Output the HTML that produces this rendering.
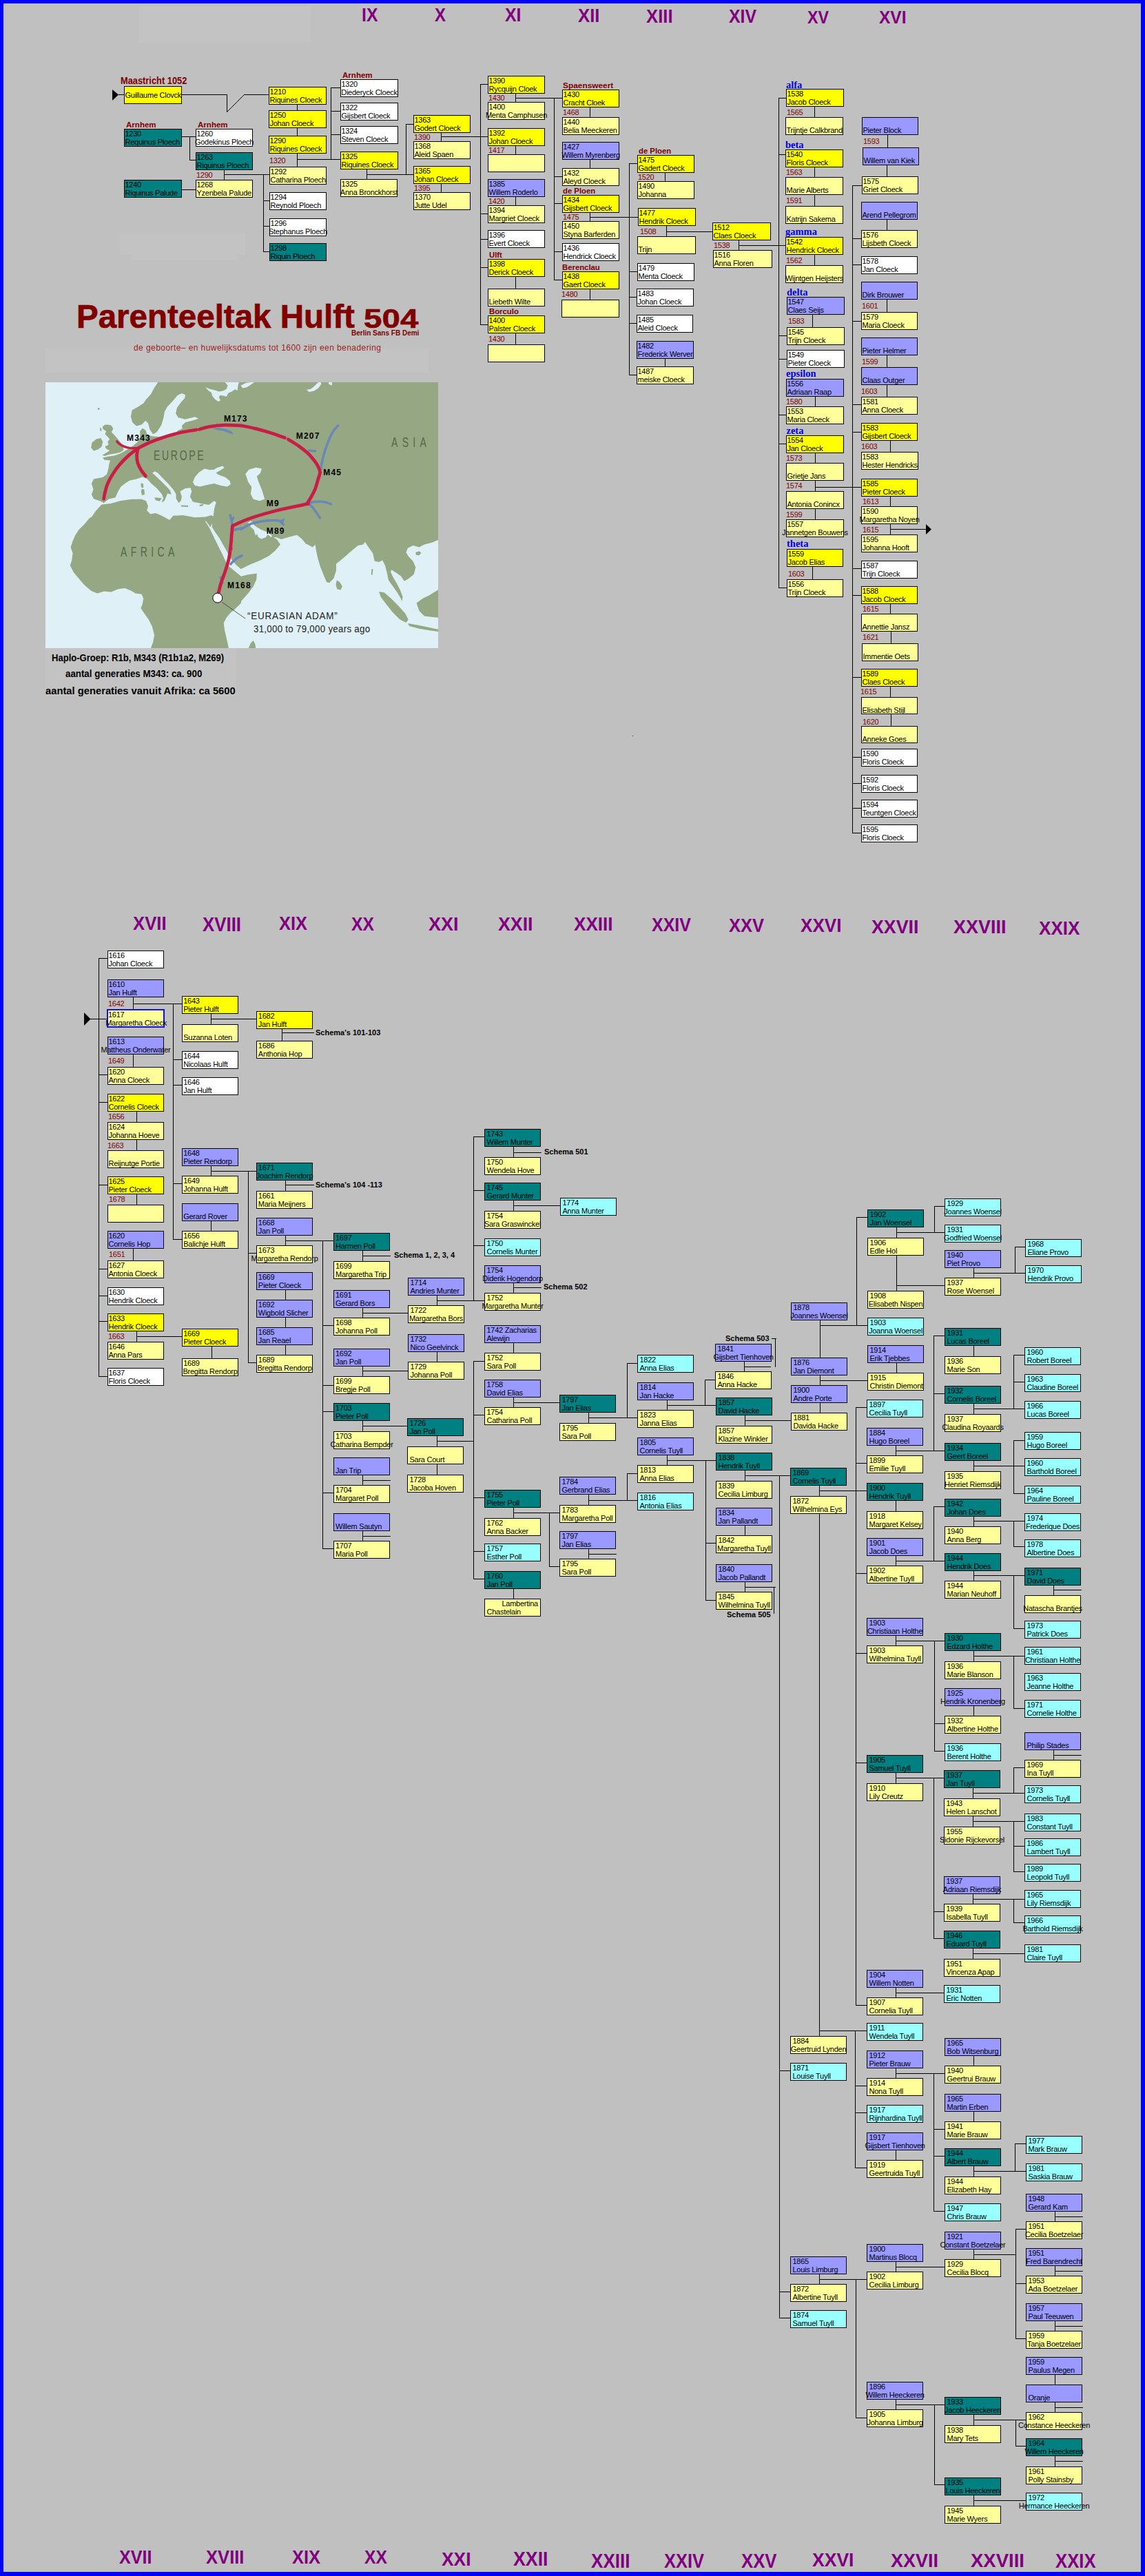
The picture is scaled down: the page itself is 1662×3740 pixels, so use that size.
<!DOCTYPE html>
<html><head><meta charset="utf-8"><title>Parenteeltak Hulft 504</title>
<style>
html,body{margin:0;padding:0}
body{width:1662px;height:3740px;position:relative;background:#c0c0c0;overflow:hidden;font-family:"Liberation Sans",sans-serif;}
#frame{position:absolute;left:0;top:0;width:1662px;height:3740px;box-sizing:border-box;border-style:solid;border-color:#0000ff;border-width:5px 6px 6px 5px;z-index:9}
.b{position:absolute;box-sizing:border-box;border:1px solid #000;height:26px;width:83px;font:11px/12px "Liberation Sans",sans-serif;letter-spacing:-0.25px;color:#000;white-space:nowrap;padding-left:.5px}
.q{padding-left:2.5px}.q1{padding-left:1.2px}.q2{padding-left:1.8px}.q3{padding-left:2px}
.b div{height:12px}
.y{background:#ffff00}.l{background:#ffff99}.t{background:#008080}.w{background:#fff}.p{background:#9999ff}.c{background:#99ffff}
.r{position:absolute;font:11px/12px "Liberation Sans",sans-serif;letter-spacing:-0.25px;color:#800000;white-space:nowrap}
.h{position:absolute;font:bold 11px/12px "Liberation Sans",sans-serif;color:#800000;white-space:nowrap;transform:scaleX(1.03);transform-origin:0 50%}
.bl{position:absolute;font:bold 14.5px/16px "Liberation Serif",serif;color:#0000f0;white-space:nowrap}
.k{position:absolute;font:bold 11px/12px "Liberation Sans",sans-serif;color:#000;white-space:nowrap}
.rm{position:absolute;font:bold 28px/28px "Liberation Sans",sans-serif;color:#800080;white-space:nowrap;transform-origin:0 0}
.lt{position:absolute;background:#c3c3c3}
svg{position:absolute;left:0;top:0}
</style></head><body>
<div class="lt" style="left:202px;top:9px;width:249px;height:53px"></div>
<div class="lt" style="left:175px;top:338px;width:181px;height:32px"></div>
<div class="lt" style="left:190px;top:370px;width:156px;height:8px"></div>
<div class="lt" style="left:66px;top:506px;width:556px;height:35px"></div>
<svg width="1662" height="3740" viewBox="0 0 1662 3740"><path d="M172 137.5H181M264 137.5H330M354 137.5H391M431 231.5H495M480 127.5H495M480 161.5H495M480 195.5H495M264 198.5H285M275 232.5H285M264 275.5H285M325 253.5H391M382 291.5H392M382 328.5H392M382 365.5H392M532 253.5H601M589 180.5H601M640 198.5H709M697 122.5H709M697 310.5H709M697 347.5H709M697 388.5H709M697 471.5H709M748 142.5H817M804 256.5H817M804 295.5H817M804 365.5H817M804 406.5H817M856 315.5H927M913 237.5H926M913 394.5H926M913 431.5H925M913 469.5H925M913 544.5H925M967 336.5H1035M1072 356.5H1142M1130 142.5H1142M1130 224.5H1142M1130 487.5H1143M1130 521.5H1143M1130 602.5H1142M1130 644.5H1142M1130 853.5H1143M1183 707.5H1251M1237 269.5H1252M1237 346.5H1251M1237 384.5H1251M1237 466.5H1251M1237 587.5H1251M1237 627.5H1251M1237 825.5H1251M1237 864.5H1251M1237 983.5H1251M1237 1099.5H1251M1237 1137.5H1251M1237 1173.5H1251M1237 1209.5H1251M1292 768.5H1345M143 1391.5H157M143 1560.5H157M143 1600.5H157M143 1720.5H157M143 1842.5H157M143 1881.5H157M143 1918.5H157M143 1998.5H157M131 1479.5H156M193 1457.5H266M251 1538.5H266M251 1575.5H266M251 1718.5H266M251 1799.5H266M306 1479.5H374M306 1700.5H374M360 1819.5H374M360 1978.5H374M198 1940.5H266M409 1499.5H456M414 1720.5H456M414 1801.5H485M468 1924.5H485M468 2011.5H485M468 2049.5H485M468 2167.5H485M468 2248.5H485M526 1823.5H567M526 1906.5H593M526 1990.5H593M526 2070.5H592M526 2149.5H567M526 2230.5H567M634 1888.5H704M687 1650.5H704M687 1728.5H704M687 1808.5H704M634 2092.5H688M687 1976.5H704M687 2054.5H704M687 2174.5H704M687 2252.5H704M687 2292.5H704M745 1673.5H786M745 1869.5H786M745 1750.5H814M745 2036.5H813M745 2196.5H813M797 2274.5H813M854 2058.5H926M910 1979.5H926M854 2178.5H926M910 2139.5H926M854 2256.5H895M968 2040.5H1040M1023 2003.5H1040M968 2120.5H1040M1024 2240.5H1040M1024 2323.5H1040M1120 1943.5H1127M1080 1984.5H1119M1081 2304.5H1126M1081 2062.5H1149M1081 2142.5H1148M1131 3006.5H1148M1131 3327.5H1148M1131 3365.5H1148M1190 1924.5H1260M1243 1767.5H1260M1190 2004.5H1260M1189 2164.5H1259M1242 2043.5H1259M1242 2124.5H1259M1242 2284.5H1259M1242 2400.5H1259M1242 2559.5H1259M1242 2911.5H1259M1189 2948.5H1259M1241 3028.5H1259M1241 3067.5H1259M1241 3147.5H1259M1189 3309.5H1259M1242 3510.5H1259M1301 1789.5H1372M1356 1751.5H1372M1301 1866.5H1372M1300 2106.5H1372M1355 1939.5H1372M1355 2023.5H1372M1300 2266.5H1372M1355 2187.5H1372M1300 2382.5H1372M1356 2502.5H1372M1356 2542.5H1372M1300 2581.5H1371M1355 2775.5H1371M1355 2814.5H1371M1300 2893.5H1371M1300 3010.5H1372M1355 3091.5H1372M1355 3130.5H1372M1355 3210.5H1372M1300 3291.5H1372M1300 3491.5H1372M1356 3607.5H1372M1413 1848.5H1489M1473 1810.5H1489M1413 2045.5H1488M1471 1967.5H1488M1471 2006.5H1488M1413 2128.5H1488M1471 2091.5H1488M1471 2168.5H1488M1413 2208.5H1488M1471 2245.5H1488M1413 2287.5H1488M1471 2364.5H1488M1413 2404.5H1488M1471 2480.5H1488M1412 2603.5H1488M1471 2566.5H1488M1412 2644.5H1488M1471 2680.5H1488M1471 2717.5H1488M1412 2757.5H1488M1471 2791.5H1488M1412 2836.5H1488M1413 3152.5H1490M1473 3112.5H1490M1413 3273.5H1475M1474 3236.5H1490M1474 3315.5H1490M1474 3395.5H1490M1413 3513.5H1490M1474 3551.5H1490M1413 3630.5H1490M1529 2308.5H1570M1529 2548.5H1570M1531 3218.5H1572M1531 3297.5H1572M1531 3377.5H1572M1531 3495.5H1572M1531 3573.5H1572M329.5 137V163M431.5 152V161M431.5 185V199M431.5 223V244M480.5 127V232M275.5 198V233M325.5 247V262M382.5 253V366M532.5 246V261M589.5 180V254M640.5 192V206M640.5 267V280M697.5 122V472M748.5 135V149M748.5 211V225M748.5 285V299M748.5 401V420M748.5 483V501M804.5 142V407M856.5 155V171M856.5 231V245M856.5 308V322M856.5 419V436M913.5 237V545M965.5 250V264M965.5 520V533M967.5 327V344M1072.5 348V364M1130.5 142V854M1182.5 154V171M1182.5 242V258M1182.5 282V300M1182.5 369V386M1179.5 456V476M1183.5 575V591M1183.5 657V673M1183.5 697V714M1183.5 738V755M1179.5 822V842M1237.5 269V1210M1288.5 195V215M1287.5 239V257M1287.5 318V335M1287.5 434V454M1287.5 515V534M1287.5 558V577M1292.5 639V657M1292.5 720V736M1292.5 760V777M1292.5 876V892M1292.5 996V1013M1293.5 916V935M1293.5 1036V1055M143.5 1391V1999M193.5 1447V1467M193.5 1530V1550M193.5 1812V1831M198.5 1613V1630M198.5 1654V1671M198.5 1733V1750M198.5 1932V1949M251.5 1457V1800M306.5 1471V1488M306.5 1692V1708M306.5 1772V1788M307.5 1954V1973M360.5 1700V1979M409.5 1493V1512M414.5 1713V1730M414.5 1793V1809M414.5 1872V1888M414.5 1912V1928M414.5 1952V1968M468.5 1801V2249M526.5 1815V1832M526.5 1898V1914M526.5 1983V1999M526.5 2062V2079M526.5 2141V2157M526.5 2222V2238M634.5 1880V1896M634.5 1962V1978M634.5 2084V2101M634.5 2125V2142M687.5 1650V1889M687.5 1976V2293M745.5 1664V1681M745.5 1742V1759M745.5 1862V1878M745.5 1949V1965M745.5 2028V2044M745.5 2188V2205M745.5 2306V2322M797.5 2196V2275M854.5 2050V2067M854.5 2169V2186M854.5 2248V2264M910.5 1979V2059M910.5 2139V2179M968.5 2032V2048M968.5 2112V2128M1023.5 2003V2041M1024.5 2120V2324M1080.5 1976V1992M1081.5 2054V2071M1081.5 2134V2151M1081.5 2214V2230M1081.5 2296V2312M1125.5 1943V1985M1123.5 2304V2343M1131.5 2142V3366M1190.5 1916V1972M1243.5 1767V1925M1190.5 1996V2012M1190.5 2036V2052M1189.5 2156V2173M1242.5 2043V2912M1189.5 2197V2957M1241.5 2948V3148M1189.5 3301V3317M1242.5 3309V3511M1301.5 1781V1798M1301.5 1822V1875M1301.5 1978V1994M1300.5 2098V2114M1300.5 2178V2195M1300.5 2258V2274M1300.5 2374V2390M1300.5 2573V2590M1300.5 2885V2901M1300.5 3002V3018M1300.5 3121V3137M1300.5 3283V3299M1300.5 3483V3499M1356.5 1751V1790M1355.5 1939V2107M1355.5 2187V2267M1356.5 2382V2543M1355.5 2581V2815M1355.5 3010V3211M1356.5 3491V3608M1413.5 1840V1856M1413.5 1953V1970M1413.5 2037V2054M1413.5 2120V2137M1413.5 2201V2217M1413.5 2280V2296M1413.5 2396V2413M1413.5 2476V2492M1413.5 2984V3000M1413.5 3065V3081M1413.5 3144V3161M1413.5 3265V3281M1413.5 3505V3522M1413.5 3622V3639M1412.5 2595V2612M1412.5 2636V2653M1412.5 2749V2765M1412.5 2828V2845M1473.5 1810V1849M1471.5 1967V2046M1471.5 2091V2169M1471.5 2208V2246M1471.5 2287V2365M1471.5 2404V2481M1471.5 2566V2604M1471.5 2644V2718M1471.5 2757V2792M1473.5 3112V3153M1474.5 3236V3396M1474.5 3513V3552M1529.5 2301V2317M1529.5 2540V2556M1531.5 3210V3226M1531.5 3289V3305M1531.5 3369V3385M1531.5 3447V3463M1531.5 3487V3503M1531.5 3565V3582" stroke="#000" stroke-width="1" fill="none" shape-rendering="crispEdges"/><path d="M329.5 162.5L354.5 137.5" stroke="#000" stroke-width="1" fill="none"/><path d="M163 130L172 137.5L163 146Z" fill="#000"/><path d="M1344 761L1352 768.5L1344 776Z" fill="#000"/><path d="M122 1470L131.5 1479.5L122 1489Z" fill="#000"/></svg>
<div class="b y" style="left:180px;top:125px;width:84px"><div style="margin-top:6px">Guillaume Clovck</div></div>
<div class="b t" style="left:180px;top:187px;width:84px"><div>1230</div><div>Requinus Ploech</div></div>
<div class="b t" style="left:180px;top:261px;width:84px"><div>1240</div><div>Riquinus Palude</div></div>
<div class="b w" style="left:284px;top:187px"><div>1260</div><div style="margin-left:-2.6px">Godekinus Ploech</div></div>
<div class="b t" style="left:284px;top:221px"><div>1263</div><div>Riquinus Ploech</div></div>
<div class="b l" style="left:284px;top:261px"><div>1268</div><div>Yzenbela Palude</div></div>
<div class="b y" style="left:390px;top:126px;width:84px"><div>1210</div><div>Riquines Cloeck</div></div>
<div class="b y" style="left:390px;top:160px;width:84px"><div>1250</div><div>Johan Cloeck</div></div>
<div class="b y" style="left:390px;top:197px;width:84px"><div>1290</div><div>Riquines Cloeck</div></div>
<div class="b l" style="left:391px;top:242px"><div>1292</div><div>Catharina Ploech</div></div>
<div class="b w" style="left:391px;top:279px"><div>1294</div><div>Reynold Ploech</div></div>
<div class="b w" style="left:391px;top:317px"><div>1296</div><div style="margin-left:-2.6px">Stephanus Ploech</div></div>
<div class="b t" style="left:391px;top:353px"><div>1298</div><div>Riquin Ploech</div></div>
<div class="b w" style="left:494px;top:115px;width:84px"><div>1320</div><div style="margin-left:-0.3px">Diederyck Cloeck</div></div>
<div class="b w" style="left:494px;top:149px;width:84px"><div>1322</div><div>Gijsbert Cloeck</div></div>
<div class="b w" style="left:494px;top:183px;width:84px"><div>1324</div><div>Steven Cloeck</div></div>
<div class="b y" style="left:494px;top:220px;width:84px"><div>1325</div><div>Riquines Cloeck</div></div>
<div class="b l" style="left:494px;top:260px"><div>1325</div><div style="margin-left:-1.7px">Anna Bronckhorst</div></div>
<div class="b y" style="left:600px;top:167px"><div>1363</div><div>Godert Cloeck</div></div>
<div class="b l" style="left:600px;top:205px"><div>1368</div><div>Aleid Spaen</div></div>
<div class="b y" style="left:600px;top:241px"><div>1365</div><div>Johan Cloeck</div></div>
<div class="b l" style="left:600px;top:279px"><div>1370</div><div>Jutte Udel</div></div>
<div class="b y" style="left:708px;top:110px"><div>1390</div><div>Rycquijn Cloek</div></div>
<div class="b l" style="left:708px;top:148px"><div>1400</div><div style="margin-left:-4.6px">Menta Camphusen</div></div>
<div class="b y" style="left:708px;top:186px"><div>1392</div><div>Johan Cloeck</div></div>
<div class="b l" style="left:708px;top:224px"><div></div><div></div></div>
<div class="b p" style="left:708px;top:260px"><div>1385</div><div>Willem Roderlo</div></div>
<div class="b l" style="left:708px;top:298px"><div>1394</div><div>Margriet Cloeck</div></div>
<div class="b w" style="left:708px;top:334px"><div>1396</div><div>Evert Cloeck</div></div>
<div class="b y" style="left:708px;top:376px"><div>1398</div><div>Derick Cloeck</div></div>
<div class="b l" style="left:708px;top:419px"><div></div><div>Liebeth Wilte</div></div>
<div class="b y" style="left:708px;top:458px"><div>1400</div><div>Palster Cloeck</div></div>
<div class="b l" style="left:708px;top:500px"><div></div><div></div></div>
<div class="b y" style="left:816px;top:130px"><div>1430</div><div>Cracht Cloek</div></div>
<div class="b l" style="left:816px;top:170px"><div>1440</div><div>Belia Meeckeren</div></div>
<div class="b p" style="left:816px;top:206px"><div>1427</div><div style="margin-left:-2.3px">Willem Myrenberg</div></div>
<div class="b l" style="left:816px;top:244px"><div>1432</div><div>Aleyd Cloeck</div></div>
<div class="b y" style="left:816px;top:283px"><div>1434</div><div>Gijsbert Cloeck</div></div>
<div class="b l" style="left:816px;top:321px"><div>1450</div><div>Styna Barferden</div></div>
<div class="b w" style="left:816px;top:353px"><div>1436</div><div>Hendrick Cloeck</div></div>
<div class="b y" style="left:816px;top:394px"><div>1438</div><div>Gaert Cloeck</div></div>
<div class="b l" style="left:815px;top:435px;width:84px"><div></div><div></div></div>
<div class="b y" style="left:925px;top:225px"><div>1475</div><div>Gadert Cloeck</div></div>
<div class="b l" style="left:925px;top:263px"><div>1490</div><div>Johanna</div></div>
<div class="b y" style="left:926px;top:302px;width:84px"><div>1477</div><div>Hendrik Cloeck</div></div>
<div class="b l" style="left:925px;top:343px;width:85px"><div></div><div>Trijn</div></div>
<div class="b w" style="left:925px;top:382px"><div>1479</div><div>Menta Cloeck</div></div>
<div class="b w" style="left:924px;top:419px"><div>1483</div><div>Johan Cloeck</div></div>
<div class="b w" style="left:924px;top:457px;width:82px"><div>1485</div><div>Aleid Cloeck</div></div>
<div class="b p" style="left:924px;top:495px"><div>1482</div><div>Frederick Werver</div></div>
<div class="b l" style="left:924px;top:532px"><div>1487</div><div>meiske Cloeck</div></div>
<div class="b y" style="left:1034px;top:323px;width:85px"><div>1512</div><div>Claes Cloeck</div></div>
<div class="b l" style="left:1035px;top:363px;width:86px"><div>1516</div><div>Anna Floren</div></div>
<div class="b y" style="left:1141px;top:129px;width:84px"><div>1538</div><div>Jacob Cloeck</div></div>
<div class="b l" style="left:1140px;top:170px;width:84px"><div></div><div>Trijntje Calkbrand</div></div>
<div class="b y" style="left:1140px;top:217px;width:84px"><div>1540</div><div>Floris Cloeck</div></div>
<div class="b l" style="left:1140px;top:257px;width:84px"><div></div><div>Marie Alberts</div></div>
<div class="b l" style="left:1140px;top:299px;width:84px"><div></div><div>Katrijn Sakema</div></div>
<div class="b y" style="left:1140px;top:344px;width:84px"><div>1542</div><div>Hendrick Cloeck</div></div>
<div class="b l" style="left:1140px;top:385px;width:84px"><div></div><div style="margin-left:-1.6px">Wijntgen Heijsters</div></div>
<div class="b p" style="left:1142px;top:431px;width:84px"><div>1547</div><div>Claes Seijs</div></div>
<div class="b l" style="left:1142px;top:475px;width:84px"><div>1545</div><div>Trijn Cloeck</div></div>
<div class="b w" style="left:1142px;top:508px;width:84px"><div>1549</div><div>Pieter Cloeck</div></div>
<div class="b p" style="left:1141px;top:550px;width:84px"><div>1556</div><div>Adriaan Raap</div></div>
<div class="b l" style="left:1141px;top:590px;width:84px"><div>1553</div><div>Maria Cloeck</div></div>
<div class="b y" style="left:1141px;top:632px;width:84px"><div>1554</div><div>Jan Cloeck</div></div>
<div class="b l" style="left:1141px;top:672px;width:84px"><div></div><div>Grietje Jans</div></div>
<div class="b l" style="left:1141px;top:713px;width:84px"><div></div><div>Antonia Conincx</div></div>
<div class="b l" style="left:1141px;top:754px;width:84px"><div>1557</div><div style="margin-left:-7.2px">Jannetgen Bouwens</div></div>
<div class="b y" style="left:1142px;top:797px;width:82px"><div>1559</div><div>Jacob Elias</div></div>
<div class="b l" style="left:1142px;top:841px;width:82px"><div>1556</div><div>Trijn Cloeck</div></div>
<div class="b p" style="left:1251px;top:170px;width:82px"><div></div><div>Pieter Block</div></div>
<div class="b p" style="left:1252px;top:214px;width:82px"><div></div><div>Willem van Kiek</div></div>
<div class="b l" style="left:1251px;top:256px;width:82px"><div>1575</div><div>Griet Cloeck</div></div>
<div class="b p" style="left:1250px;top:293px;width:82px"><div></div><div>Arend Pellegrom</div></div>
<div class="b l" style="left:1250px;top:334px;width:82px"><div>1576</div><div>Lijsbeth Cloeck</div></div>
<div class="b w" style="left:1250px;top:372px;width:82px"><div>1578</div><div>Jan Cloeck</div></div>
<div class="b p" style="left:1250px;top:409px;width:82px"><div></div><div>Dirk Brouwer</div></div>
<div class="b l" style="left:1250px;top:453px;width:82px"><div>1579</div><div>Maria Cloeck</div></div>
<div class="b p" style="left:1250px;top:490px;width:82px"><div></div><div>Pieter Helmer</div></div>
<div class="b p" style="left:1250px;top:533px;width:82px"><div></div><div>Claas Outger</div></div>
<div class="b l" style="left:1250px;top:576px;width:82px"><div>1581</div><div>Anna Cloeck</div></div>
<div class="b y" style="left:1250px;top:614px;width:82px"><div>1583</div><div>Gijsbert Cloeck</div></div>
<div class="b l" style="left:1250px;top:656px"><div>1583</div><div>Hester Hendricks</div></div>
<div class="b y" style="left:1250px;top:695px;width:82px"><div>1585</div><div>Pieter Cloeck</div></div>
<div class="b l" style="left:1250px;top:735px;width:82px"><div>1590</div><div style="margin-left:-4.0px">Margaretha Noyen</div></div>
<div class="b l" style="left:1250px;top:776px;width:82px"><div>1595</div><div>Johanna Hooft</div></div>
<div class="b w" style="left:1250px;top:814px;width:82px"><div>1587</div><div>Trijn Cloeck</div></div>
<div class="b y" style="left:1250px;top:851px;width:82px"><div>1588</div><div>Jacob Cloeck</div></div>
<div class="b l" style="left:1250px;top:891px;width:82px"><div></div><div>Annettie Jansz</div></div>
<div class="b l" style="left:1251px;top:934px;width:82px"><div></div><div>Immentie Oets</div></div>
<div class="b y" style="left:1250px;top:971px;width:82px"><div>1589</div><div>Claes Cloeck</div></div>
<div class="b l" style="left:1250px;top:1012px;width:82px;height:25px"><div></div><div>Elisabeth Stijl</div></div>
<div class="b l" style="left:1250px;top:1054px;width:82px;height:25px"><div></div><div>Anneke Goes</div></div>
<div class="b w" style="left:1250px;top:1087px;width:82px"><div>1590</div><div>Floris Cloeck</div></div>
<div class="b w" style="left:1250px;top:1125px;width:82px"><div>1592</div><div>Floris Cloeck</div></div>
<div class="b w" style="left:1250px;top:1161px;width:82px"><div>1594</div><div>Teuntgen Cloeck</div></div>
<div class="b w" style="left:1250px;top:1197px;width:82px"><div>1595</div><div>Floris Cloeck</div></div>
<div class="b w" style="left:156px;top:1380px;width:82px"><div>1616</div><div>Johan Cloeck</div></div>
<div class="b p" style="left:156px;top:1422px;width:82px"><div>1610</div><div>Jan Hulft</div></div>
<div class="b l" style="left:155px;top:1465px;width:84px;height:27px;border:2px solid #1010e8;padding-left:0"><div>1617</div><div style="margin-left:-3.8px">Margaretha Cloeck</div></div>
<div class="b p" style="left:156px;top:1505px;width:82px"><div>1613</div><div style="margin-left:-11.0px">Mattheus Onderwater</div></div>
<div class="b l" style="left:156px;top:1549px;width:82px"><div>1620</div><div>Anna Cloeck</div></div>
<div class="b y" style="left:156px;top:1588px;width:82px"><div>1622</div><div>Cornelis Cloeck</div></div>
<div class="b l" style="left:156px;top:1629px;width:82px"><div>1624</div><div>Johanna Hoeve</div></div>
<div class="b l" style="left:156px;top:1670px;width:82px"><div></div><div>Reijnutge Portie</div></div>
<div class="b y" style="left:156px;top:1708px;width:82px"><div>1625</div><div>Pieter Cloeck</div></div>
<div class="b l" style="left:156px;top:1749px;width:82px"><div></div><div></div></div>
<div class="b p" style="left:156px;top:1787px;width:82px"><div>1620</div><div>Cornelis Hop</div></div>
<div class="b l" style="left:156px;top:1830px;width:82px"><div>1627</div><div>Antonia Cloeck</div></div>
<div class="b w" style="left:156px;top:1869px;width:82px"><div>1630</div><div>Hendrik Cloeck</div></div>
<div class="b y" style="left:156px;top:1907px;width:82px"><div>1633</div><div>Hendrik Cloeck</div></div>
<div class="b l" style="left:156px;top:1948px;width:82px"><div>1646</div><div>Anna Pars</div></div>
<div class="b w" style="left:156px;top:1986px;width:82px"><div>1637</div><div>Floris Cloeck</div></div>
<div class="b y q1" style="left:264px;top:1446px;width:82px"><div>1643</div><div>Pieter Hulft</div></div>
<div class="b l q1" style="left:264px;top:1487px;width:82px"><div></div><div>Suzanna Loten</div></div>
<div class="b w q1" style="left:264px;top:1526px;width:82px"><div>1644</div><div>Nicolaas Hulft</div></div>
<div class="b w q1" style="left:264px;top:1564px;width:82px"><div>1646</div><div>Jan Hulft</div></div>
<div class="b p q1" style="left:264px;top:1667px;width:82px"><div>1648</div><div>Pieter Rendorp</div></div>
<div class="b l q1" style="left:264px;top:1707px;width:82px"><div>1649</div><div>Johanna Hulft</div></div>
<div class="b p q1" style="left:264px;top:1747px;width:82px"><div></div><div>Gerard Rover</div></div>
<div class="b l q1" style="left:264px;top:1787px;width:82px"><div>1656</div><div>Balichje Hulft</div></div>
<div class="b y q1" style="left:264px;top:1929px;width:82px"><div>1669</div><div>Pieter Cloeck</div></div>
<div class="b l q1" style="left:264px;top:1972px;width:82px"><div>1689</div><div style="margin-left:-0.8px">Bregitta Rendorp</div></div>
<div class="b y q2" style="left:372px;top:1468px;width:82px"><div>1682</div><div>Jan Hulft</div></div>
<div class="b l q2" style="left:372px;top:1511px;width:82px"><div>1686</div><div>Anthonia Hop</div></div>
<div class="b t q2" style="left:372px;top:1688px;width:82px"><div>1671</div><div style="margin-left:-3.0px">Joachim Rendorp</div></div>
<div class="b l q2" style="left:372px;top:1729px;width:82px"><div>1661</div><div>Maria Meijners</div></div>
<div class="b p q2" style="left:372px;top:1768px;width:82px"><div>1668</div><div>Jan Poll</div></div>
<div class="b l q2" style="left:372px;top:1808px;width:82px"><div>1673</div><div style="margin-left:-10.3px">Margaretha Rendorp</div></div>
<div class="b p q2" style="left:372px;top:1847px;width:82px"><div>1669</div><div>Pieter Cloeck</div></div>
<div class="b p q2" style="left:372px;top:1887px;width:82px"><div>1692</div><div>Wigbold Slicher</div></div>
<div class="b p q2" style="left:372px;top:1927px;width:82px"><div>1685</div><div>Jan Reael</div></div>
<div class="b l q2" style="left:372px;top:1967px;width:82px"><div>1689</div><div style="margin-left:-1.4px">Bregitta Rendorp</div></div>
<div class="b t q3" style="left:484px;top:1790px;width:82px"><div>1697</div><div>Harmen Poll</div></div>
<div class="b l q3" style="left:484px;top:1831px;width:82px"><div>1699</div><div>Margaretha Trip</div></div>
<div class="b p q3" style="left:484px;top:1873px;width:82px"><div>1691</div><div>Gerard Bors</div></div>
<div class="b l q3" style="left:484px;top:1913px;width:82px"><div>1698</div><div>Johanna Poll</div></div>
<div class="b p q3" style="left:484px;top:1958px;width:82px"><div>1692</div><div>Jan Poll</div></div>
<div class="b l q3" style="left:484px;top:1998px;width:82px"><div>1699</div><div>Bregje Poll</div></div>
<div class="b t q3" style="left:484px;top:2037px;width:82px"><div>1703</div><div>Pieter Poll</div></div>
<div class="b l q3" style="left:484px;top:2078px;width:82px"><div>1703</div><div style="margin-left:-7.6px">Catharina Bempder</div></div>
<div class="b p q3" style="left:484px;top:2116px;width:82px"><div></div><div>Jan Trip</div></div>
<div class="b l q3" style="left:484px;top:2156px;width:82px"><div>1704</div><div>Margaret Poll</div></div>
<div class="b p q3" style="left:484px;top:2197px;width:82px"><div></div><div>Willem Sautyn</div></div>
<div class="b l q3" style="left:484px;top:2237px;width:82px"><div>1707</div><div>Maria Poll</div></div>
<div class="b p q" style="left:592px;top:1855px;width:82px"><div>1714</div><div>Andries Munter</div></div>
<div class="b l q" style="left:592px;top:1895px;width:82px"><div>1722</div><div style="margin-left:-1.6px">Margaretha Bors</div></div>
<div class="b p q" style="left:592px;top:1937px;width:82px"><div>1732</div><div>Nico Geelvinck</div></div>
<div class="b l q" style="left:592px;top:1977px;width:82px"><div>1729</div><div>Johanna Poll</div></div>
<div class="b t q" style="left:591px;top:2059px;width:82px"><div>1726</div><div>Jan Poll</div></div>
<div class="b l q" style="left:591px;top:2100px;width:82px"><div></div><div>Sara Court</div></div>
<div class="b l q" style="left:591px;top:2141px;width:82px"><div>1728</div><div>Jacoba Hoven</div></div>
<div class="b t q" style="left:703px;top:1639px;width:82px"><div>1743</div><div>Willem Munter</div></div>
<div class="b l q" style="left:703px;top:1680px;width:82px"><div>1750</div><div>Wendela Hove</div></div>
<div class="b t q" style="left:703px;top:1717px;width:82px"><div>1745</div><div>Gerard Munter</div></div>
<div class="b l q" style="left:703px;top:1758px;width:82px"><div>1754</div><div style="margin-left:-3.6px">Sara Graswinckel</div></div>
<div class="b c q" style="left:703px;top:1798px;width:82px"><div>1750</div><div>Cornelis Munter</div></div>
<div class="b p q" style="left:703px;top:1837px;width:82px"><div>1754</div><div style="margin-left:-6.2px">Diderik Hogendorp</div></div>
<div class="b l q" style="left:703px;top:1877px;width:82px"><div>1752</div><div style="margin-left:-7.1px">Margaretha Munter</div></div>
<div class="b p q" style="left:703px;top:1924px;width:82px"><div>1742 Zacharias</div><div>Alewijn</div></div>
<div class="b l q" style="left:703px;top:1964px;width:82px"><div>1752</div><div>Sara Poll</div></div>
<div class="b p q" style="left:703px;top:2003px;width:82px"><div>1758</div><div>David Elias</div></div>
<div class="b l q" style="left:703px;top:2043px;width:82px"><div>1754</div><div>Catharina Poll</div></div>
<div class="b t q" style="left:703px;top:2163px;width:82px"><div>1755</div><div>Pieter Poll</div></div>
<div class="b l q" style="left:703px;top:2204px;width:82px"><div>1762</div><div>Anna Backer</div></div>
<div class="b c q" style="left:703px;top:2241px;width:82px"><div>1757</div><div>Esther Poll</div></div>
<div class="b t q" style="left:703px;top:2281px;width:82px"><div>1760</div><div>Jan Poll</div></div>
<div class="b l q" style="left:703px;top:2321px;width:82px"><div style="text-align:right;padding-right:3px">Lambertina</div><div>Chastelain</div></div>
<div class="b c q" style="left:813px;top:1739px;width:82px"><div>1774</div><div>Anna Munter</div></div>
<div class="b t q" style="left:812px;top:2025px;width:82px"><div>1797</div><div>Jan Elias</div></div>
<div class="b l q" style="left:812px;top:2066px;width:82px"><div>1795</div><div>Sara Poll</div></div>
<div class="b p q" style="left:812px;top:2144px;width:82px"><div>1784</div><div>Gerbrand Elias</div></div>
<div class="b l q" style="left:812px;top:2185px;width:82px"><div>1783</div><div>Margaretha Poll</div></div>
<div class="b p q" style="left:812px;top:2223px;width:82px"><div>1797</div><div>Jan Elias</div></div>
<div class="b l q" style="left:812px;top:2263px;width:82px"><div>1795</div><div>Sara Poll</div></div>
<div class="b c q" style="left:925px;top:1967px;width:82px"><div>1822</div><div>Anna Elias</div></div>
<div class="b p q" style="left:925px;top:2007px;width:82px"><div>1814</div><div>Jan Hacke</div></div>
<div class="b l q" style="left:925px;top:2047px;width:82px"><div>1823</div><div>Janna Elias</div></div>
<div class="b p q" style="left:925px;top:2087px;width:82px"><div>1805</div><div>Cornelis Tuyll</div></div>
<div class="b l q" style="left:925px;top:2127px;width:82px"><div>1813</div><div>Anna Elias</div></div>
<div class="b c q" style="left:925px;top:2167px;width:82px"><div>1816</div><div>Antonia Elias</div></div>
<div class="b p q" style="left:1038px;top:1951px;width:82px"><div>1841</div><div style="margin-left:-6.1px">Gijsbert Tienhoven</div></div>
<div class="b l q" style="left:1038px;top:1991px;width:82px"><div>1846</div><div>Anna Hacke</div></div>
<div class="b t q" style="left:1039px;top:2029px;width:82px"><div>1857</div><div>David Hacke</div></div>
<div class="b l q" style="left:1039px;top:2070px;width:82px"><div>1857</div><div>Klazine Winkler</div></div>
<div class="b t q" style="left:1039px;top:2109px;width:82px"><div>1838</div><div>Hendrik Tuyll</div></div>
<div class="b l q" style="left:1039px;top:2150px;width:82px"><div>1839</div><div>Cecilia Limburg</div></div>
<div class="b p q" style="left:1039px;top:2189px;width:82px"><div>1834</div><div>Jan Pallandt</div></div>
<div class="b l q" style="left:1039px;top:2229px;width:82px"><div>1842</div><div style="margin-left:-1.5px">Margaretha Tuyll</div></div>
<div class="b p q" style="left:1039px;top:2271px;width:82px"><div>1840</div><div>Jacob Pallandt</div></div>
<div class="b l q" style="left:1039px;top:2311px;width:82px"><div>1845</div><div>Wilhelmina Tuyll</div></div>
<div class="b p q" style="left:1148px;top:1891px;width:82px"><div>1878</div><div style="margin-left:-4.2px">Joannes Woensel</div></div>
<div class="b p q" style="left:1148px;top:1971px;width:82px"><div>1876</div><div>Jan Diemont</div></div>
<div class="b p q" style="left:1148px;top:2011px;width:82px"><div>1900</div><div>Andre Porte</div></div>
<div class="b l q" style="left:1148px;top:2051px;width:82px"><div>1881</div><div>Davida Hacke</div></div>
<div class="b t q" style="left:1147px;top:2131px;width:82px"><div>1869</div><div>Cornelis Tuyll</div></div>
<div class="b l q" style="left:1147px;top:2172px;width:82px"><div>1872</div><div>Wilhelmina Eys</div></div>
<div class="b l q" style="left:1147px;top:2956px;width:82px"><div>1884</div><div style="margin-left:-2.8px">Geertruid Lynden</div></div>
<div class="b c q" style="left:1147px;top:2995px;width:82px"><div>1871</div><div>Louise Tuyll</div></div>
<div class="b p q" style="left:1147px;top:3276px;width:82px"><div>1865</div><div>Louis Limburg</div></div>
<div class="b l q" style="left:1147px;top:3316px;width:82px"><div>1872</div><div>Albertine Tuyll</div></div>
<div class="b c q" style="left:1147px;top:3354px;width:82px"><div>1874</div><div>Samuel Tuyll</div></div>
<div class="b t q" style="left:1259px;top:1756px;width:82px"><div>1902</div><div>Jan Woensel</div></div>
<div class="b l q" style="left:1259px;top:1797px;width:82px"><div>1906</div><div>Edle Hol</div></div>
<div class="b l q" style="left:1259px;top:1874px;width:82px"><div>1908</div><div style="margin-left:-1.8px">Elisabeth Nispen</div></div>
<div class="b c q" style="left:1259px;top:1913px;width:82px"><div>1903</div><div style="margin-left:-1.6px">Joanna Woensel</div></div>
<div class="b p q" style="left:1259px;top:1953px;width:82px"><div>1914</div><div>Erik Tjebbes</div></div>
<div class="b l q" style="left:1259px;top:1993px;width:82px"><div>1915</div><div>Christin Diemont</div></div>
<div class="b c q" style="left:1258px;top:2032px;width:82px"><div>1897</div><div>Cecilia Tuyll</div></div>
<div class="b p q" style="left:1258px;top:2073px;width:82px"><div>1884</div><div>Hugo Boreel</div></div>
<div class="b l q" style="left:1258px;top:2113px;width:82px"><div>1899</div><div>Emilie Tuyll</div></div>
<div class="b t q" style="left:1258px;top:2153px;width:82px"><div>1900</div><div>Hendrik Tuyll</div></div>
<div class="b l q" style="left:1258px;top:2194px;width:82px"><div>1918</div><div>Margaret Kelsey</div></div>
<div class="b p q" style="left:1258px;top:2233px;width:82px"><div>1901</div><div>Jacob Does</div></div>
<div class="b l q" style="left:1258px;top:2273px;width:82px"><div>1902</div><div>Albertine Tuyll</div></div>
<div class="b p q" style="left:1258px;top:2349px;width:82px"><div>1903</div><div style="margin-left:-2.6px">Christiaan Holthe</div></div>
<div class="b l q" style="left:1258px;top:2389px;width:82px"><div>1903</div><div>Wilhelmina Tuyll</div></div>
<div class="b t q" style="left:1258px;top:2548px;width:82px"><div>1905</div><div>Samuel Tuyll</div></div>
<div class="b l q" style="left:1258px;top:2589px;width:82px"><div>1910</div><div>Lily Creutz</div></div>
<div class="b p q" style="left:1258px;top:2860px;width:82px"><div>1904</div><div>Willem Notten</div></div>
<div class="b l q" style="left:1258px;top:2900px;width:82px"><div>1907</div><div>Cornelia Tuyll</div></div>
<div class="b c q" style="left:1258px;top:2937px;width:82px"><div>1911</div><div>Wendela Tuyll</div></div>
<div class="b p q" style="left:1258px;top:2977px;width:82px"><div>1912</div><div>Pieter Brauw</div></div>
<div class="b l q" style="left:1258px;top:3017px;width:82px"><div>1914</div><div>Nona Tuyll</div></div>
<div class="b c q" style="left:1258px;top:3056px;width:82px"><div>1917</div><div>Rijnhardina Tuyll</div></div>
<div class="b p q" style="left:1258px;top:3096px;width:82px"><div>1917</div><div style="margin-left:-6.1px">Gijsbert Tienhoven</div></div>
<div class="b l q" style="left:1258px;top:3136px;width:82px"><div>1919</div><div>Geertruida Tuyll</div></div>
<div class="b p q" style="left:1258px;top:3258px;width:82px"><div>1900</div><div>Martinus Blocq</div></div>
<div class="b l q" style="left:1258px;top:3298px;width:82px"><div>1902</div><div>Cecilia Limburg</div></div>
<div class="b p q" style="left:1258px;top:3458px;width:82px"><div>1896</div><div style="margin-left:-5.1px">Willem Heeckeren</div></div>
<div class="b l q" style="left:1258px;top:3498px;width:82px"><div>1905</div><div style="margin-left:-3.1px">Johanna Limburg</div></div>
<div class="b c q" style="left:1371px;top:1740px;width:82px"><div>1929</div><div style="margin-left:-4.2px">Joannes Woensel</div></div>
<div class="b c q" style="left:1371px;top:1778px;width:82px"><div>1931</div><div style="margin-left:-4.4px">Godfried Woensel</div></div>
<div class="b p q" style="left:1371px;top:1815px;width:82px"><div>1940</div><div>Piet Provo</div></div>
<div class="b l q" style="left:1371px;top:1855px;width:82px"><div>1937</div><div>Rose Woensel</div></div>
<div class="b t q" style="left:1371px;top:1928px;width:82px"><div>1931</div><div>Lucas Boreel</div></div>
<div class="b l q" style="left:1371px;top:1969px;width:82px"><div>1936</div><div>Marie Son</div></div>
<div class="b t q" style="left:1371px;top:2012px;width:82px"><div>1932</div><div>Cornelis Boreel</div></div>
<div class="b l q" style="left:1371px;top:2053px;width:82px"><div>1937</div><div style="margin-left:-7.1px">Claudina Royaards</div></div>
<div class="b t q" style="left:1371px;top:2095px;width:82px"><div>1934</div><div>Geert Boreel</div></div>
<div class="b l q" style="left:1371px;top:2136px;width:82px"><div>1935</div><div style="margin-left:-3.5px">Henriet Riemsdijk</div></div>
<div class="b t q" style="left:1371px;top:2176px;width:82px"><div>1942</div><div>Johan Does</div></div>
<div class="b l q" style="left:1371px;top:2216px;width:82px"><div>1940</div><div>Anna Berg</div></div>
<div class="b t q" style="left:1371px;top:2255px;width:82px"><div>1944</div><div>Hendrik Does</div></div>
<div class="b l q" style="left:1371px;top:2295px;width:82px"><div>1944</div><div>Marian Neuhoff</div></div>
<div class="b t q" style="left:1371px;top:2371px;width:82px"><div>1930</div><div>Edzard Holthe</div></div>
<div class="b l q" style="left:1371px;top:2412px;width:82px"><div>1936</div><div>Marie Blanson</div></div>
<div class="b p q" style="left:1371px;top:2451px;width:82px"><div>1925</div><div style="margin-left:-9.5px">Hendrik Kronenberg</div></div>
<div class="b l q" style="left:1371px;top:2491px;width:82px"><div>1932</div><div>Albertine Holthe</div></div>
<div class="b c q" style="left:1371px;top:2531px;width:82px"><div>1936</div><div>Berent Holthe</div></div>
<div class="b t q" style="left:1370px;top:2570px;width:82px"><div>1937</div><div>Jan Tuyll</div></div>
<div class="b l q" style="left:1370px;top:2611px;width:82px"><div>1943</div><div>Helen Lanschot</div></div>
<div class="b l q" style="left:1370px;top:2652px;width:82px"><div>1955</div><div style="margin-left:-9.5px">Sidonie Rijckevorsel</div></div>
<div class="b p q" style="left:1370px;top:2724px;width:82px"><div>1937</div><div style="margin-left:-4.7px">Adriaan Riemsdijk</div></div>
<div class="b l q" style="left:1370px;top:2764px;width:82px"><div>1939</div><div>Isabella Tuyll</div></div>
<div class="b t q" style="left:1370px;top:2803px;width:82px"><div>1946</div><div>Eduard Tuyll</div></div>
<div class="b l q" style="left:1370px;top:2844px;width:82px"><div>1951</div><div>Vincenza Apap</div></div>
<div class="b c q" style="left:1370px;top:2882px;width:82px"><div>1931</div><div>Eric Notten</div></div>
<div class="b p q" style="left:1371px;top:2959px;width:82px"><div>1965</div><div>Bob Witsenburg</div></div>
<div class="b l q" style="left:1371px;top:2999px;width:82px"><div>1940</div><div>Geertrui Brauw</div></div>
<div class="b p q" style="left:1371px;top:3040px;width:82px"><div>1965</div><div>Martin Erben</div></div>
<div class="b l q" style="left:1371px;top:3080px;width:82px"><div>1941</div><div>Marie Brauw</div></div>
<div class="b t q" style="left:1371px;top:3119px;width:82px"><div>1944</div><div>Albert Brauw</div></div>
<div class="b l q" style="left:1371px;top:3160px;width:82px"><div>1944</div><div>Elizabeth Hay</div></div>
<div class="b c q" style="left:1371px;top:3199px;width:82px"><div>1947</div><div>Chris Brauw</div></div>
<div class="b p q" style="left:1371px;top:3240px;width:82px"><div>1921</div><div style="margin-left:-10.0px">Constant Boetzelaer</div></div>
<div class="b l q" style="left:1371px;top:3280px;width:82px"><div>1929</div><div>Cecilia Blocq</div></div>
<div class="b t q" style="left:1371px;top:3480px;width:82px"><div>1933</div><div style="margin-left:-3.4px">Jacob Heeckeren</div></div>
<div class="b l q" style="left:1371px;top:3521px;width:82px"><div>1938</div><div>Mary Tets</div></div>
<div class="b t q" style="left:1371px;top:3597px;width:82px"><div>1935</div><div style="margin-left:-1.9px">Louis Heeckeren</div></div>
<div class="b l q" style="left:1371px;top:3638px;width:82px"><div>1945</div><div>Marie Wyers</div></div>
<div class="b c q" style="left:1488px;top:1799px;width:82px"><div>1968</div><div>Eliane Provo</div></div>
<div class="b c q" style="left:1488px;top:1837px;width:82px"><div>1970</div><div>Hendrik Provo</div></div>
<div class="b c q" style="left:1487px;top:1956px;width:82px"><div>1960</div><div>Robert Boreel</div></div>
<div class="b c q" style="left:1487px;top:1995px;width:82px"><div>1963</div><div>Claudine Boreel</div></div>
<div class="b c q" style="left:1487px;top:2034px;width:82px"><div>1966</div><div>Lucas Boreel</div></div>
<div class="b c q" style="left:1487px;top:2079px;width:82px"><div>1959</div><div>Hugo Boreel</div></div>
<div class="b c q" style="left:1487px;top:2117px;width:82px"><div>1960</div><div>Barthold Boreel</div></div>
<div class="b c q" style="left:1487px;top:2157px;width:82px"><div>1964</div><div>Pauline Boreel</div></div>
<div class="b c q" style="left:1487px;top:2197px;width:82px"><div>1974</div><div style="margin-left:-1.6px">Frederique Does</div></div>
<div class="b c q" style="left:1487px;top:2235px;width:82px"><div>1978</div><div>Albertine Does</div></div>
<div class="b t q" style="left:1487px;top:2276px;width:82px"><div>1971</div><div>David Does</div></div>
<div class="b l q" style="left:1487px;top:2316px;width:82px"><div></div><div style="margin-left:-5.3px">Natascha Brantjes</div></div>
<div class="b c q" style="left:1487px;top:2353px;width:82px"><div>1973</div><div>Patrick Does</div></div>
<div class="b c q" style="left:1487px;top:2391px;width:82px"><div>1961</div><div style="margin-left:-2.6px">Christiaan Holthe</div></div>
<div class="b c q" style="left:1487px;top:2429px;width:82px"><div>1963</div><div>Jeanne Holthe</div></div>
<div class="b c q" style="left:1487px;top:2468px;width:82px"><div>1971</div><div>Cornelie Holthe</div></div>
<div class="b p q" style="left:1487px;top:2515px;width:82px"><div></div><div>Philip Stades</div></div>
<div class="b l q" style="left:1487px;top:2555px;width:82px"><div>1969</div><div>Ina Tuyll</div></div>
<div class="b c q" style="left:1487px;top:2592px;width:82px"><div>1973</div><div>Cornelis Tuyll</div></div>
<div class="b c q" style="left:1487px;top:2633px;width:82px"><div>1983</div><div>Constant Tuyll</div></div>
<div class="b c q" style="left:1487px;top:2669px;width:82px"><div>1986</div><div>Lambert Tuyll</div></div>
<div class="b c q" style="left:1487px;top:2706px;width:82px"><div>1989</div><div>Leopold Tuyll</div></div>
<div class="b c q" style="left:1487px;top:2744px;width:82px"><div>1965</div><div>Lily Riemsdijk</div></div>
<div class="b c q" style="left:1487px;top:2781px;width:82px"><div>1966</div><div style="margin-left:-6.1px">Barthold Riemsdijk</div></div>
<div class="b c q" style="left:1487px;top:2823px;width:82px"><div>1981</div><div>Claire Tuyll</div></div>
<div class="b c q" style="left:1489px;top:3101px;width:82px"><div>1977</div><div>Mark Brauw</div></div>
<div class="b c q" style="left:1489px;top:3141px;width:82px"><div>1981</div><div>Saskia Brauw</div></div>
<div class="b p q" style="left:1489px;top:3185px;width:82px"><div>1948</div><div>Gerard Kam</div></div>
<div class="b l q" style="left:1489px;top:3225px;width:82px"><div>1951</div><div style="margin-left:-4.6px">Cecilia Boetzelaer</div></div>
<div class="b p q" style="left:1489px;top:3264px;width:82px"><div>1951</div><div style="margin-left:-3.3px">Fred Barendrecht</div></div>
<div class="b l q" style="left:1489px;top:3304px;width:82px"><div>1953</div><div>Ada Boetzelaer</div></div>
<div class="b p q" style="left:1489px;top:3344px;width:82px"><div>1957</div><div>Paul Teeuwen</div></div>
<div class="b l q" style="left:1489px;top:3384px;width:82px"><div>1959</div><div style="margin-left:-1.5px">Tanja Boetzelaer</div></div>
<div class="b p q" style="left:1489px;top:3422px;width:82px"><div>1959</div><div>Paulus Megen</div></div>
<div class="b p q" style="left:1489px;top:3462px;width:82px"><div></div><div>Oranje</div></div>
<div class="b l q" style="left:1489px;top:3502px;width:82px"><div>1962</div><div style="margin-left:-14.5px">Constance Heeckeren</div></div>
<div class="b t q" style="left:1489px;top:3540px;width:82px"><div>1964</div><div style="margin-left:-5.1px">Willem Heeckeren</div></div>
<div class="b l q" style="left:1489px;top:3581px;width:82px"><div>1961</div><div>Polly Stainsby</div></div>
<div class="b c q" style="left:1489px;top:3619px;width:82px"><div>1972</div><div style="margin-left:-13.7px">Hermance Heeckeren</div></div>
<span class="r" style="left:391px;top:227px">1320</span><span class="r" style="left:285px;top:248px">1290</span><span class="r" style="left:601px;top:193px">1390</span><span class="r" style="left:601px;top:267px">1395</span><span class="r" style="left:709px;top:136px">1430</span><span class="r" style="left:709px;top:212px">1417</span><span class="r" style="left:709px;top:286px">1420</span><span class="r" style="left:709px;top:486px">1430</span><span class="r" style="left:817px;top:157px">1468</span><span class="r" style="left:817px;top:309px">1475</span><span class="r" style="left:815px;top:421px">1480</span><span class="r" style="left:926px;top:251px">1520</span><span class="r" style="left:929px;top:330px">1508</span><span class="r" style="left:1036px;top:350px">1538</span><span class="r" style="left:1142px;top:157px">1565</span><span class="r" style="left:1141px;top:244px">1563</span><span class="r" style="left:1141px;top:285px">1591</span><span class="r" style="left:1141px;top:372px">1562</span><span class="r" style="left:1144px;top:460px">1583</span><span class="r" style="left:1141px;top:577px">1580</span><span class="r" style="left:1141px;top:659px">1573</span><span class="r" style="left:1141px;top:699px">1574</span><span class="r" style="left:1141px;top:741px">1599</span><span class="r" style="left:1144px;top:827px">1603</span><span class="r" style="left:1253px;top:199px">1593</span><span class="r" style="left:1251px;top:438px">1601</span><span class="r" style="left:1251px;top:519px">1599</span><span class="r" style="left:1250px;top:562px">1603</span><span class="r" style="left:1250px;top:642px">1603</span><span class="r" style="left:1252px;top:722px">1613</span><span class="r" style="left:1252px;top:763px">1615</span><span class="r" style="left:1252px;top:878px">1615</span><span class="r" style="left:1252px;top:919px">1621</span><span class="r" style="left:1249px;top:998px">1615</span><span class="r" style="left:1252px;top:1042px">1620</span><span class="r" style="left:157px;top:1451px">1642</span><span class="r" style="left:157px;top:1534px">1649</span><span class="r" style="left:157px;top:1615px">1656</span><span class="r" style="left:156px;top:1657px">1663</span><span class="r" style="left:158px;top:1735px">1678</span><span class="r" style="left:158px;top:1815px">1651</span><span class="r" style="left:157px;top:1934px">1663</span>
<span class="h" style="left:183px;top:175px;transform:scaleX(1.05)">Arnhem</span><span class="h" style="left:287px;top:175px;transform:scaleX(1.05)">Arnhem</span><span class="h" style="left:497px;top:102.5px;transform:scaleX(1.05)">Arnhem</span><span class="h" style="left:817px;top:117.7px;transform:scaleX(1.08)">Spaensweert</span><span class="h" style="left:817px;top:270.7px">de Ploen</span><span class="h" style="left:816px;top:381.7px">Berenclau</span><span class="h" style="left:710px;top:363.7px">Ulft</span><span class="h" style="left:710px;top:445.7px">Borculo</span><span class="h" style="left:927px;top:212.7px">de Ploen</span>
<span class="bl" style="left:1141px;top:114.6px">alfa</span><span class="bl" style="left:1140px;top:202.4px">beta</span><span class="bl" style="left:1140px;top:327.5px">gamma</span><span class="bl" style="left:1142px;top:415.9px">delta</span><span class="bl" style="left:1141px;top:533.6px">epsilon</span><span class="bl" style="left:1141.5px;top:616.6px">zeta</span><span class="bl" style="left:1142px;top:781.4px">theta</span>
<span class="k" style="left:458px;top:1493px">Schema's 101-103</span><span class="k" style="left:458px;top:1714px">Schema's 104 -113</span><span class="k" style="left:572px;top:1816px">Schema 1, 2, 3, 4</span><span class="k" style="left:790px;top:1666px">Schema 501</span><span class="k" style="left:789px;top:1862px">Schema 502</span><span class="k" style="left:1053px;top:1937px">Schema 503</span><span class="k" style="left:1055px;top:2338px">Schema 505</span>
<span class="rm" style="left:524.6px;top:8.4px;transform:scale(0.887,0.998)">IX</span><span class="rm" style="left:631.0px;top:8.4px;transform:scale(0.856,0.998)">X</span><span class="rm" style="left:733.0px;top:8.4px;transform:scale(0.887,0.998)">XI</span><span class="rm" style="left:838.5px;top:8.9px;transform:scale(0.921,0.998)">XII</span><span class="rm" style="left:937.5px;top:10.4px;transform:scale(0.917,0.998)">XIII</span><span class="rm" style="left:1057.5px;top:10.4px;transform:scale(0.887,0.998)">XIV</span><span class="rm" style="left:1171.5px;top:12.0px;transform:scale(0.829,0.948)">XV</span><span class="rm" style="left:1275.5px;top:12.0px;transform:scale(0.876,0.948)">XVI</span><span class="rm" style="left:193.0px;top:1327.4px;transform:scale(0.917,0.998)">XVII</span><span class="rm" style="left:294.0px;top:1328.2px;transform:scale(0.923,1.047)">XVIII</span><span class="rm" style="left:405.0px;top:1327.4px;transform:scale(0.909,0.998)">XIX</span><span class="rm" style="left:510.0px;top:1328.4px;transform:scale(0.882,0.998)">XX</span><span class="rm" style="left:621.5px;top:1328.9px;transform:scale(0.965,0.973)">XXI</span><span class="rm" style="left:722.5px;top:1328.9px;transform:scale(0.955,0.973)">XXII</span><span class="rm" style="left:832.5px;top:1328.9px;transform:scale(0.931,0.973)">XXIII</span><span class="rm" style="left:946.0px;top:1329.4px;transform:scale(0.893,0.998)">XXIV</span><span class="rm" style="left:1057.5px;top:1330.4px;transform:scale(0.911,0.998)">XXV</span><span class="rm" style="left:1161.5px;top:1330.9px;transform:scale(0.933,0.973)">XXVI</span><span class="rm" style="left:1264.5px;top:1332.9px;transform:scale(0.957,0.973)">XXVII</span><span class="rm" style="left:1383.5px;top:1332.9px;transform:scale(0.963,0.973)">XXVIII</span><span class="rm" style="left:1508.0px;top:1333.9px;transform:scale(0.933,0.998)">XXIX</span><span class="rm" style="left:173.0px;top:3699.4px;transform:scale(0.898,0.998)">XVII</span><span class="rm" style="left:298.5px;top:3699.4px;transform:scale(0.914,0.998)">XVIII</span><span class="rm" style="left:424.0px;top:3699.4px;transform:scale(0.909,0.998)">XIX</span><span class="rm" style="left:529.0px;top:3699.4px;transform:scale(0.882,0.998)">XX</span><span class="rm" style="left:640.5px;top:3702.4px;transform:scale(0.942,0.998)">XXI</span><span class="rm" style="left:744.5px;top:3701.2px;transform:scale(0.955,1.047)">XXII</span><span class="rm" style="left:857.5px;top:3703.8px;transform:scale(0.931,1.023)">XXIII</span><span class="rm" style="left:964.0px;top:3703.8px;transform:scale(0.909,1.023)">XXIV</span><span class="rm" style="left:1075.5px;top:3703.8px;transform:scale(0.920,1.023)">XXV</span><span class="rm" style="left:1178.5px;top:3702.9px;transform:scale(0.948,0.998)">XXVI</span><span class="rm" style="left:1292.5px;top:3703.9px;transform:scale(0.964,0.998)">XXVII</span><span class="rm" style="left:1408.5px;top:3703.9px;transform:scale(0.982,0.998)">XXVIII</span><span class="rm" style="left:1532.0px;top:3703.8px;transform:scale(0.917,1.023)">XXIX</span>
<span class="h" style="left:174.5px;top:109px;font-size:14.5px;line-height:16px;transform:scaleX(0.885);transform-origin:0 0">Maastricht 1052</span>
<div class="lt" style="left:66px;top:941px;width:277px;height:70px"></div>
<span style="position:absolute;left:111px;top:432.5px;font:bold 47.5px/54px 'Liberation Sans',sans-serif;color:#800000;white-space:nowrap;letter-spacing:0;-webkit-text-stroke:0.7px #800000">Parenteeltak Hulft <span style="display:inline-block;transform:scaleY(0.82);transform-origin:0 80.5%">504</span></span>
<span style="position:absolute;left:510px;top:478px;font:bold 10px/12px 'Liberation Sans',sans-serif;color:#800000;white-space:nowrap">Berlin Sans FB Demi</span>
<span style="position:absolute;left:194px;top:497.5px;font:12px/14px 'Liberation Sans',sans-serif;color:#9c2424;white-space:nowrap;letter-spacing:0.43px">de geboorte– en huwelijksdatums tot 1600 zijn een benadering</span>
<span style="position:absolute;left:75px;top:946.5px;font:bold 14.5px/16px 'Liberation Sans',sans-serif;color:#000;white-space:nowrap;transform:scaleX(0.9);transform-origin:0 0">Haplo-Groep: R1b, M343 (R1b1a2, M269)</span>
<span style="position:absolute;left:95px;top:970px;font:bold 14.5px/16px 'Liberation Sans',sans-serif;color:#000;white-space:nowrap;transform:scaleX(0.918);transform-origin:0 0">aantal generaties M343: ca. 900</span>
<span style="position:absolute;left:66px;top:995px;font:bold 14.75px/16px 'Liberation Sans',sans-serif;color:#000;white-space:nowrap">aantal generaties vanuit Afrika: ca 5600</span>

<div style="position:absolute;left:918px;top:1068px;width:1px;height:1px;background:#000"></div>
<svg width="1662" height="3740" viewBox="0 0 1662 3740"><defs><clipPath id="mc"><rect x="66" y="555" width="570" height="386"/></clipPath></defs><g clip-path="url(#mc)"><rect x="66" y="555" width="570" height="386" fill="#dff0f6"/><path d="M229.2 555.1L223.4 563.9L219.1 572.3L212.0 579.9L208.2 585.5L200.6 590.5L191.7 595.6L189.9 604.5L192.2 613.3L198.0 618.4L205.6 616.4L211.2 610.8L215.0 614.6L217.5 623.5L222.1 630.5L227.7 627.3L234.3 617.1L237.3 607.0L238.8 598.1L242.9 590.5L251.2 581.7L257.6 574.1L263.9 571.0L269.0 573.3L268.2 577.9L262.6 584.2L257.1 591.8L255.0 600.2L258.8 606.2L269.0 608.8L282.9 605.2L288.0 607.8L279.1 610.8L269.0 613.3L263.9 617.9L264.7 622.2L258.8 624.7L255.5 628.5L248.7 631.6L239.8 632.6L231.0 634.1L222.1 633.6L213.7 631.6L211.5 624.7L206.9 621.7L203.1 626.0L203.4 634.9L198.8 642.7L190.2 649.3L182.6 653.9L174.5 658.4L166.4 661.4L157.5 662.7L149.2 664.5L151.2 667.5L160.1 668.5L158.3 674.1L157.0 681.7L155.0 688.8L149.2 693.1L136.0 695.6L132.9 702.0L135.5 710.8L132.9 717.7L136.0 724.3L144.9 727.3L150.7 730.3L157.5 724.8L167.6 722.2L171.4 713.4L175.2 707.0L182.1 701.5L187.9 697.7L198.0 695.6L206.9 692.4L213.2 694.9L219.6 702.0L227.7 709.1L234.8 717.2L237.3 723.5L234.3 729.3L238.6 727.3L241.4 720.7L242.9 716.4L248.7 717.7L246.9 712.1L241.1 705.8L233.5 698.2L225.9 691.1L221.1 686.8L224.6 684.2L229.2 686.8L236.0 693.9L244.4 702.5L251.7 711.1L255.5 717.2L255.5 723.5L259.3 730.3L262.6 727.3L263.9 721.0L261.4 713.4L269.0 709.1L276.6 708.3L278.3 713.4L275.8 721.0L279.9 728.6L291.8 731.1L303.2 732.9L310.8 727.3L313.8 729.3L311.3 737.4L309.5 750.1L307.0 748.0L298.1 750.6L282.9 751.3L265.2 748.0L251.2 748.8L246.2 755.1L234.8 748.8L225.9 745.0L218.3 746.3L213.2 741.2L215.0 734.9L212.0 727.3L205.6 724.8L191.7 724.8L174.0 727.3L161.3 731.1L147.4 732.4L138.5 742.5L133.5 750.1L129.7 752.6L122.1 761.5L114.5 769.1L109.4 776.7L105.6 785.5L102.6 794.4L105.6 803.3L104.3 813.4L101.8 821.0L106.9 831.1L114.5 840.0L122.1 848.9L132.2 857.7L141.1 861.5L151.2 858.5L161.3 859.5L171.4 855.2L181.6 853.9L190.4 857.7L196.8 861.5L205.6 862.8L208.2 869.1L206.9 876.7L204.4 883.0L209.4 890.6L215.8 899.5L220.8 909.6L224.1 922.3L222.1 932.4L218.3 942.6L332.3 942.6L329.0 927.4L326.0 914.7L324.7 904.6L328.5 897.0L334.8 889.4L341.2 884.3L350.0 875.4L350.0 872.9L360.1 861.5L367.7 851.4L372.3 841.3L372.8 832.4L360.1 834.2L350.0 836.7L350.0 826.1L362.7 819.7L377.9 813.4L390.5 807.1L399.4 799.5L407.0 790.6L401.9 783.0L396.9 780.0L400.7 780.0L408.3 783.0L420.9 779.2L431.1 776.7L438.7 783.0L443.7 789.3L446.3 790.6L453.9 794.4L457.6 790.6L458.9 799.5L461.4 810.9L465.2 823.5L470.3 836.2L474.1 845.1L477.9 846.3L484.2 840.0L488.0 828.6L488.0 818.5L494.4 813.4L502.0 807.1L512.1 798.2L519.7 791.9L527.3 790.6L529.8 786.8L534.9 794.4L541.2 803.3L543.8 814.7L550.1 815.9L555.2 813.4L559.0 821.0L561.5 831.1L564.0 842.5L570.4 851.4L576.7 860.2L581.8 869.1L583.5 872.9L584.5 866.6L581.0 857.0L577.2 849.4L573.4 842.8L569.9 836.7L567.1 830.6L568.3 827.3L574.2 831.1L581.8 836.2L586.8 843.8L593.2 840.0L600.8 833.7L603.3 823.5L599.5 814.7L593.2 808.3L589.4 802.0L591.9 795.7L599.5 791.9L608.4 794.4L616.0 790.6L626.1 788.1L637.5 783.5L640.0 550.0L229.2 552.5Z" fill="#95a883" /><path d="M155.7 616.4L161.3 617.4L164.4 622.2L161.8 627.3L165.9 631.6L170.9 637.4L175.2 642.5L178.5 648.8L179.6 653.3L175.2 656.4L167.6 658.4L160.1 659.4L151.7 662.0L148.7 660.7L155.7 656.4L159.3 653.9L154.2 651.8L152.5 648.3L157.5 645.7L156.3 641.2L159.3 637.4L155.7 633.6L152.5 630.5L154.2 626.0L149.9 623.5L148.7 619.7L151.7 617.1Z" fill="#95a883" /><path d="M144.9 620.9L146.9 621.4L147.6 625.5L145.6 626.0Z" fill="#95a883" /><path d="M141.6 592.6L144.1 592.0L144.6 594.6L142.3 595.1Z" fill="#95a883" /><path d="M133.5 642.5L139.8 637.4L146.1 636.1L149.2 641.2L147.4 648.8L142.3 652.6L136.0 654.4L132.2 650.1Z" fill="#95a883" /><path d="M204.9 701.5L207.7 702.0L208.4 707.5L205.9 708.6L204.4 705.0Z" fill="#95a883" /><path d="M205.6 710.1L209.4 710.6L209.9 717.7L206.4 719.2L204.9 714.6Z" fill="#95a883" /><path d="M224.1 722.2L234.8 723.3L231.7 727.8L225.9 726.3Z" fill="#95a883" /><path d="M262.6 733.4L273.3 734.1L272.8 735.9L263.1 735.4Z" fill="#95a883" /><path d="M289.2 732.9L295.6 731.4L294.3 734.4L290.0 734.9Z" fill="#95a883" /><path d="M488.8 842.5L493.1 845.1L496.9 851.4L494.4 856.4L489.3 855.2L487.5 848.9Z" fill="#95a883" /><path d="M550.1 859.0L557.7 860.2L567.8 869.1L578.0 879.2L588.1 890.6L592.7 899.5L589.4 904.1L580.5 899.5L570.4 889.4L560.2 876.7L552.6 866.6Z" fill="#95a883" /><path d="M591.9 905.1L603.3 907.1L616.0 909.6L628.6 912.2L637.5 914.2L637.5 917.2L623.6 915.2L608.4 912.7L594.4 909.1Z" fill="#95a883" /><path d="M604.6 875.4L613.4 869.1L623.6 864.0L637.5 855.2L637.5 897.0L626.1 895.7L616.0 894.4L608.4 886.8Z" fill="#95a883" /><path d="M603.3 802.0L608.4 800.2L611.4 802.8L608.4 806.3L603.8 805.8Z" fill="#95a883" /><path d="M360.1 942.6L363.9 933.7L367.7 929.9L370.3 935.0L371.5 942.6Z" fill="#95a883" /><path d="M539.5 826.1L541.5 826.6L540.5 834.9L538.7 834.2Z" fill="#95a883" /><path d="M279.9 699.9L282.9 692.4L289.2 685.5L296.8 680.4L304.4 682.2L310.8 681.7L315.8 678.7L323.4 676.6L325.5 679.2L319.6 683.0L313.3 686.8L318.4 689.8L327.2 693.1L333.6 698.2L334.8 703.2L329.8 706.5L320.9 705.0L310.8 702.0L300.6 704.0L290.5 706.5L282.9 705.0Z" fill="#dff0f6" /><path d="M356.3 688.0L361.4 681.7L371.5 678.7L379.9 680.4L377.9 686.8L372.8 691.8L375.3 699.4L380.4 712.1L384.2 724.8L376.6 727.3L367.7 724.8L363.9 717.2L365.2 707.0L360.1 699.4Z" fill="#dff0f6" /><path d="M297.6 756.7L300.6 761.0L304.3 767.1L307.9 774.4L312.2 783.6L317.1 793.4L322.0 803.1L326.3 812.3L330.0 820.0L332.3 822.3L339.9 828.6L350.0 836.7L351.3 827.6L343.7 821.0L339.1 816.6L336.7 812.9L333.0 808.0L328.1 798.2L323.2 789.7L318.3 781.1L312.2 772.6L307.6 765.0L308.3 760.3L306.7 762.2L305.5 765.5L302.4 761.0L299.0 756.7Z" fill="#dff0f6" /><path d="M359.9 759.1L363.6 756.4L367.5 758.5L368.5 762.2L373.4 765.8L379.5 769.2L385.6 771.4L390.5 773.8L394.8 777.7L394.1 780.2L388.6 775.9L385.6 780.2L379.5 782.6L374.8 779.9L373.0 774.7L371.5 777.7L369.9 774.4L368.5 768.9L364.2 765.2Z" fill="#dff0f6" /><path d="M325.2 553.7L347.2 553.7L345.2 561.0L344.7 567.1L341.1 565.2L336.9 568.3L331.3 570.8L328.8 575.7L323.9 574.5L319.0 574.0L317.8 577.4L320.3 581.3L316.6 583.0L311.7 579.3L308.0 574.5L306.8 570.1L301.9 566.6L298.3 562.2L304.4 564.7L311.7 566.6L317.8 568.6L323.9 567.6L328.8 564.7L330.5 559.8L327.6 556.1Z" fill="#dff0f6" /><path d="M349.6 559.8L357.0 556.1L370.4 553.7L364.3 558.6L358.2 562.2L352.1 563.5Z" fill="#dff0f6" /><path d="M445.0 565.9L451.1 564.7L456.0 561.0L460.9 556.1L464.6 553.7L466.5 557.3L462.1 563.5L456.0 567.6L448.7 569.1Z" fill="#dff0f6" /><path d="M476.8 553.7L482.2 553.7L481.7 559.8L477.3 557.8Z" fill="#dff0f6" /><path d="M308.2 621.7L318.4 620.9L328.5 622.9L336.1 626.5L339.1 631.1L332.3 628.5L323.4 625.5L313.3 624.0Z" fill="#6b87b5" /><path d="M465.2 681.7C465.9 678.8 467.4 670.3 469.0 664.0C470.7 657.6 473.1 649.8 475.4 643.7C477.7 637.6 480.4 631.6 483.0 627.3C485.5 622.9 489.3 619.4 490.6 617.9" fill="none" stroke="#6b87b5" stroke-width="3.5" stroke-linecap="round" stroke-linejoin="round" /><path d="M448.8 654.1C450.3 654.3 456.2 654.9 457.6 655.1" fill="none" stroke="#6b87b5" stroke-width="3.5" stroke-linecap="round" stroke-linejoin="round" /><path d="M447.5 730.3C449.0 730.0 452.8 728.9 456.4 728.6C460.0 728.3 465.0 728.0 469.0 728.6C473.1 729.1 478.5 731.3 480.4 731.9" fill="none" stroke="#6b87b5" stroke-width="3.5" stroke-linecap="round" stroke-linejoin="round" /><path d="M447.5 731.1C448.4 731.8 450.7 733.3 452.6 735.4C454.5 737.5 456.9 741.0 458.9 743.8C460.9 746.6 463.6 750.7 464.5 752.1" fill="none" stroke="#6b87b5" stroke-width="3.5" stroke-linecap="round" stroke-linejoin="round" /><path d="M336.8 762.7C336.7 761.5 336.6 757.6 336.1 755.1C335.6 752.7 334.4 749.2 334.1 748.0" fill="none" stroke="#6b87b5" stroke-width="3.5" stroke-linecap="round" stroke-linejoin="round" /><path d="M336.6 756.4C337.0 755.6 338.7 752.2 339.1 751.3" fill="none" stroke="#6b87b5" stroke-width="3" stroke-linecap="round" stroke-linejoin="round" /><path d="M338.1 769.8C340.1 769.4 348.0 767.5 350.0 767.0" fill="none" stroke="#6b87b5" stroke-width="3.5" stroke-linecap="round" stroke-linejoin="round" /><path d="M350.0 768.3C352.5 767.0 359.7 762.2 365.2 760.2C370.7 758.2 377.0 757.2 382.9 756.4C388.8 755.6 396.1 755.4 400.7 755.6C405.2 755.8 408.7 757.3 410.3 757.7" fill="none" stroke="#6b87b5" stroke-width="3.5" stroke-linecap="round" stroke-linejoin="round" /><path d="M407.0 756.9C407.8 756.5 410.8 755.0 411.6 754.6" fill="none" stroke="#6b87b5" stroke-width="3" stroke-linecap="round" stroke-linejoin="round" /><path d="M407.0 757.7C407.8 758.3 410.8 761.0 411.6 761.7" fill="none" stroke="#6b87b5" stroke-width="3" stroke-linecap="round" stroke-linejoin="round" /><path d="M334.8 819.0C336.1 817.7 339.7 813.4 342.4 811.4C345.2 809.3 349.8 807.4 351.3 806.6" fill="none" stroke="#6b87b5" stroke-width="3.5" stroke-linecap="round" stroke-linejoin="round" /><path d="M322.9 846.3C322.5 845.0 320.8 839.6 320.4 838.2" fill="none" stroke="#6b87b5" stroke-width="3.5" stroke-linecap="round" stroke-linejoin="round" /><path d="M316.3 864.0C317.1 861.1 319.1 852.2 320.9 846.3C322.7 840.4 325.3 834.5 327.2 828.6C329.1 822.7 331.0 816.8 332.3 810.9C333.6 804.9 334.2 798.6 334.8 793.1C335.5 787.6 335.7 782.8 336.1 777.9C336.5 773.1 337.1 766.3 337.4 764.0" fill="none" stroke="#c81e46" stroke-width="4.8" stroke-linecap="round" stroke-linejoin="round" /><path d="M338.6 762.8C342.8 761.1 353.0 755.9 364.0 752.2C374.9 748.5 390.5 744.0 404.5 740.5C418.4 737.1 440.4 732.9 447.5 731.4" fill="none" stroke="#c81e46" stroke-width="4.8" stroke-linecap="round" stroke-linejoin="round" /><path d="M446.3 730.3C447.1 729.0 449.4 725.7 451.3 722.2C453.2 718.8 456.0 713.8 457.6 709.6C459.3 705.4 460.3 700.9 461.4 696.9C462.6 692.9 464.5 688.9 464.5 685.5C464.5 682.1 462.8 679.4 461.4 676.6C460.1 673.9 458.9 672.2 456.4 669.0C453.9 665.9 450.1 661.2 446.3 657.6C442.5 654.1 438.2 650.8 433.6 647.5C428.9 644.2 420.9 639.5 418.4 637.9" fill="none" stroke="#c81e46" stroke-width="4.8" stroke-linecap="round" stroke-linejoin="round" /><path d="M413.3 635.6C409.9 634.4 400.2 630.8 393.1 628.5C385.9 626.3 377.4 624.0 370.3 622.2C363.1 620.4 353.4 618.6 350.0 617.9" fill="none" stroke="#c81e46" stroke-width="4.8" stroke-linecap="round" stroke-linejoin="round" /><path d="M350.0 617.9C346.0 617.8 333.8 616.8 326.0 617.1C318.1 617.4 309.3 618.6 303.2 619.7C297.0 620.7 291.6 622.8 289.2 623.5" fill="none" stroke="#c81e46" stroke-width="4.8" stroke-linecap="round" stroke-linejoin="round" /><path d="M284.9 624.0C283.3 624.2 279.9 624.6 275.3 625.5C270.7 626.3 263.9 627.5 257.6 629.0C251.2 630.6 244.1 632.6 237.3 634.9C230.6 637.1 223.2 639.8 217.0 642.5C210.9 645.1 203.3 649.2 200.6 650.6" fill="none" stroke="#c81e46" stroke-width="4.8" stroke-linecap="round" stroke-linejoin="round" /><path d="M200.6 650.6C198.7 650.6 192.8 651.0 189.2 650.6C185.6 650.1 181.8 648.9 179.0 647.8C176.3 646.7 174.3 645.1 172.7 644.0C171.2 642.8 170.2 641.4 169.7 640.9" fill="none" stroke="#c81e46" stroke-width="3.4" stroke-linecap="round" stroke-linejoin="round" /><path d="M200.6 650.6C198.3 652.4 191.1 657.5 186.6 661.4C182.2 665.4 177.8 669.7 174.0 674.1C170.2 678.5 166.8 683.4 163.9 688.0C160.9 692.7 158.2 697.5 156.3 702.0C154.4 706.4 153.4 710.9 152.5 714.6C151.5 718.4 151.0 722.7 150.7 724.3" fill="none" stroke="#c81e46" stroke-width="4.8" stroke-linecap="round" stroke-linejoin="round" /><path d="M200.1 651.3C199.8 653.0 198.6 658.1 198.6 661.4C198.5 664.8 198.8 668.2 199.8 671.6C200.8 675.0 202.4 678.4 204.4 681.7C206.3 685.0 210.3 689.7 211.5 691.3" fill="none" stroke="#c81e46" stroke-width="4.8" stroke-linecap="round" stroke-linejoin="round" /><path d="M458.4 673.6L467.0 686.8L460.4 697.4L463.0 686.3Z" fill="#c81e46" /><path d="M333.0 796.9L336.8 789.3L337.6 798.2Z" fill="#c81e46" /><path d="M322.2 874.2L356.3 898.2" stroke="#333" stroke-width="0.8" fill="none"/><circle cx="315.8" cy="868.1" r="7" fill="#fff" stroke="#000" stroke-width="1"/></g></svg>
<span style="position:absolute;left:184.1px;top:630.2px;white-space:nowrap;font:bold 12px/12px 'Liberation Sans',sans-serif;color:#000;letter-spacing:1.2px;">M343</span>
<span style="position:absolute;left:324.9px;top:601.8px;white-space:nowrap;font:bold 12px/12px 'Liberation Sans',sans-serif;color:#000;letter-spacing:1.2px;">M173</span>
<span style="position:absolute;left:429.8px;top:626.6px;white-space:nowrap;font:bold 12px/12px 'Liberation Sans',sans-serif;color:#000;letter-spacing:1.2px;">M207</span>
<span style="position:absolute;left:469.3px;top:679.8px;white-space:nowrap;font:bold 12px/12px 'Liberation Sans',sans-serif;color:#000;letter-spacing:1.2px;">M45</span>
<span style="position:absolute;left:386.7px;top:725.4px;white-space:nowrap;font:bold 12px/12px 'Liberation Sans',sans-serif;color:#000;letter-spacing:1.2px;">M9</span>
<span style="position:absolute;left:386.7px;top:765.4px;white-space:nowrap;font:bold 12px/12px 'Liberation Sans',sans-serif;color:#000;letter-spacing:1.2px;">M89</span>
<span style="position:absolute;left:330.0px;top:843.5px;white-space:nowrap;font:bold 12px/12px 'Liberation Sans',sans-serif;color:#000;letter-spacing:1.2px;">M168</span>
<span style="position:absolute;left:223.1px;top:650.5px;white-space:nowrap;color:#566a4a;font:19.5px/20px 'Liberation Sans',sans-serif;transform-origin:0 0;letter-spacing:3.7px;transform:scaleX(0.72)">EUROPE</span>
<span style="position:absolute;left:568.1px;top:632.3px;white-space:nowrap;color:#566a4a;font:19.5px/20px 'Liberation Sans',sans-serif;transform-origin:0 0;letter-spacing:8.7px;transform:scaleX(0.72)">ASIA</span>
<span style="position:absolute;left:175.0px;top:791.3px;white-space:nowrap;color:#566a4a;font:19.5px/20px 'Liberation Sans',sans-serif;transform-origin:0 0;letter-spacing:7.5px;transform:scaleX(0.72)">AFRICA</span>
<span style="position:absolute;left:358.9px;top:886.4px;white-space:nowrap;color:#222;font:15px/16px 'Liberation Sans',sans-serif;transform-origin:0 0;font-size:15.5px;letter-spacing:0.9px;transform:scaleX(0.87)">“EURASIAN ADAM”</span>
<span style="position:absolute;left:367.7px;top:904.7px;white-space:nowrap;color:#222;font:15px/16px 'Liberation Sans',sans-serif;transform-origin:0 0;font-size:14px;letter-spacing:0.3px;transform:scaleX(0.95)">31,000 to 79,000 years ago</span>
<div id="frame"></div>
</body></html>
